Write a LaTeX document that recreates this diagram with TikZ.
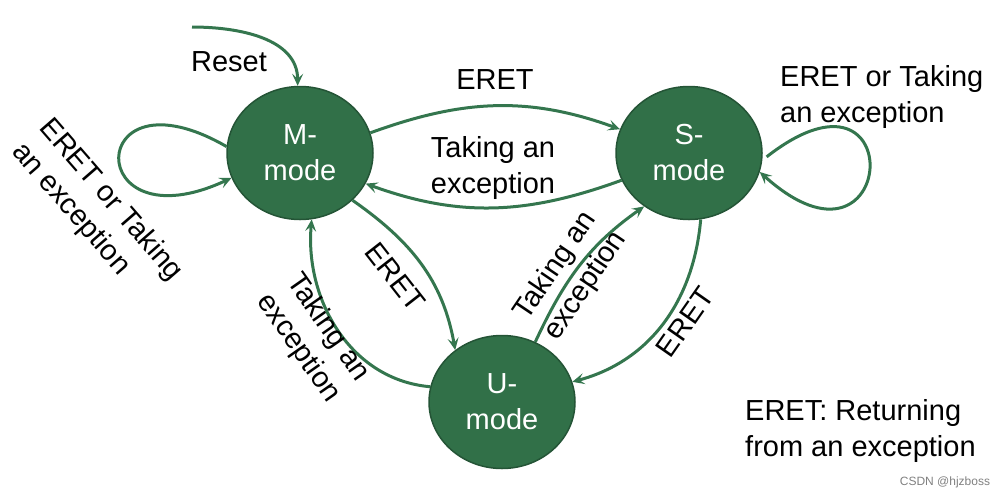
\documentclass[tikz,border=0pt]{standalone}
\usepackage{fontspec}
\setmainfont{Liberation Sans}
\usetikzlibrary{shapes.geometric,arrows.meta}
\definecolor{modegreen}{RGB}{49,112,72}
\definecolor{modeline}{RGB}{36,84,54}
\definecolor{edgegreen}{RGB}{52,118,78}

\begin{document}
\begin{tikzpicture}[x=1pt,y=1pt]
\tikzstyle{every node}+=[font=\fontsize{29}{36}\selectfont,inner sep=0pt]
\tikzstyle{mode}=[ellipse,draw=modeline,fill=modegreen,line width=1.5pt,text=white,minimum width=146,minimum height=133,align=center]
\tikzstyle{trans}=[draw=edgegreen,line width=3pt,-{Stealth[length=12pt,width=11pt,inset=5pt]}]
\useasboundingbox (0,0) rectangle (1007,-499);
\node [mode] (M) at (300,-153) {M-\\mode};
\node [mode] (S) at (689,-153) {S-\\mode};
\node [mode] (U) at (502,-402) {U-\\mode};
\coordinate (R) at (192,-27);
\draw [trans] (R) to [out=0,in=90] (M.92);
\node (reset) at (229,-62) {Reset};
\draw [trans] (M.16) to [out=20,in=160] (S.161);
\node (eretMS) at (495,-80) {ERET};
\draw [trans] (S.202) to [out=-160,in=-20] (M.-25);
\node [align=center] (takeSM) at (493,-168) {Taking an\\exception};
\draw [trans] (M.175) .. controls +(150:165) and +(205:165) .. (M.200);
\node [align=left,rotate=-49] (loopM) at (97,-212) {ERET or Taking\\an exception};
\draw [trans] ([xshift=4pt]S.-3) .. controls +(38:185) and +(-42:185) .. (S.-15);
\node [align=left,anchor=west] (loopS) at (780,-97) {ERET or Taking\\an exception};
\draw [trans] (M.-42) to [out=-35,in=100] (U.132);
\node [rotate=-52] (eretMU) at (395,-277) {ERET};
\draw [trans] (U.168) to [out=175,in=-95] (M.-80);
\node [align=center,rotate=-55] (takeUM) at (313,-338) {Taking an\\exception};
\draw [trans] (U.61) to [out=65,in=215] (S.230);
\node [align=center,rotate=56] (takeUS) at (571,-276) {Taking an\\exception};
\draw [trans] (S.-80) to [out=-95,in=15] (U.16);
\node [rotate=55] (eretSU) at (685,-322) {ERET};
\node [align=left,anchor=west] (legend) at (745,-431) {ERET: Returning\\from an exception};
\node [font=\fontsize{12}{14}\selectfont,text=gray] (mark) at (945,-482) {CSDN @hjzboss};
\end{tikzpicture}
\end{document}
